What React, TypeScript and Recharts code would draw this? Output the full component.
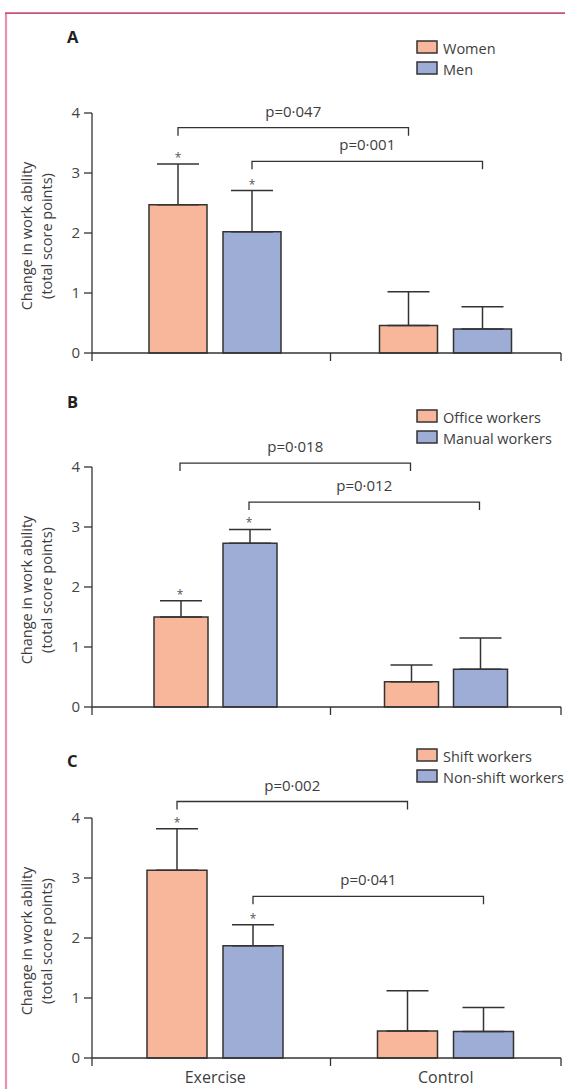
import React from 'react'
import { BarChart, Bar, XAxis, YAxis, ErrorBar } from 'recharts'

// categories on the x axis
const GROUPS = ['Exercise', 'Control']

// panel A: sex
const SEX_LABELS = ['Women', 'Men']
const WOMEN = [2.47, 0.46]
const WOMEN_ERR = [0.68, 0.56]
const MEN = [2.02, 0.4]
const MEN_ERR = [0.69, 0.37]
const SEX_P = ['p=0·047', 'p=0·001']
const SEX_LEVELS = [3.76, 3.2]

// panel B: occupation
const JOB_LABELS = ['Office workers', 'Manual workers']
const OFFICE = [1.5, 0.42]
const OFFICE_ERR = [0.27, 0.28]
const MANUAL = [2.73, 0.63]
const MANUAL_ERR = [0.23, 0.52]
const JOB_P = ['p=0·018', 'p=0·012']
const JOB_LEVELS = [4.06, 3.41]

// panel C: shift work
const SHIFT_LABELS = ['Shift workers', 'Non-shift workers']
const SHIFT = [3.13, 0.45]
const SHIFT_ERR = [0.69, 0.67]
const NON_SHIFT = [1.87, 0.44]
const NON_SHIFT_ERR = [0.35, 0.4]
const SHIFT_P = ['p=0·002', 'p=0·041']
const SHIFT_LEVELS = [4.27, 2.69]

// significance marks (exercise groups only)
const STARRED = [true, false]

const Y_TICKS = [0, 1, 2, 3, 4]

// layout
const W = 565
const H = 1089
const PLOT_LEFT = 92
const PLOT_RIGHT = 561
const PAD_LEFT = 8
const BAND = (PLOT_RIGHT - PLOT_LEFT - PAD_LEFT) / 2
const PLOT_H = 240
const UNIT = PLOT_H / 4
const M_TOP = 100
const X_AXIS_H = 34
const CHART_H = M_TOP + PLOT_H + X_AXIS_H + 4

const FONT = '"Open Sans", "Noto Sans", sans-serif'
const INK = '#333333'
const TEXT = '#3d3d3d'
const COLORS = ['#f8b79a', '#9eadd6']

interface PanelConfig {
  letter: string
  labels: string[]
  values: number[][]
  errors: number[][]
  pvalues: string[]
  levels: number[]
  plotTop: number
  legendTop: number
  letterBase: number
  barSize: number
  barGap: number
  showX: boolean
}

const PANELS: PanelConfig[] = [
  {
    letter: 'A',
    labels: SEX_LABELS,
    values: [WOMEN, MEN],
    errors: [WOMEN_ERR, MEN_ERR],
    pvalues: SEX_P,
    levels: SEX_LEVELS,
    plotTop: 113.3,
    legendTop: 41,
    letterBase: 43,
    barSize: 58,
    barGap: 16,
    showX: false,
  },
  {
    letter: 'B',
    labels: JOB_LABELS,
    values: [OFFICE, MANUAL],
    errors: [OFFICE_ERR, MANUAL_ERR],
    pvalues: JOB_P,
    levels: JOB_LEVELS,
    plotTop: 466.7,
    legendTop: 410,
    letterBase: 408,
    barSize: 54,
    barGap: 15,
    showX: false,
  },
  {
    letter: 'C',
    labels: SHIFT_LABELS,
    values: [SHIFT, NON_SHIFT],
    errors: [SHIFT_ERR, NON_SHIFT_ERR],
    pvalues: SHIFT_P,
    levels: SHIFT_LEVELS,
    plotTop: 817.7,
    legendTop: 749,
    letterBase: 767,
    barSize: 60,
    barGap: 16,
    showX: true,
  },
]

// same arithmetic recharts uses to place grouped bars inside a band
function barCenter(p: PanelConfig, group: number, series: number) {
  const sum = p.barSize * 2 + p.barGap
  const offset = ((BAND - sum) / 2) >> 0
  return (
    PLOT_LEFT + PAD_LEFT + group * BAND + offset +
    series * (p.barSize + p.barGap) + p.barSize / 2
  )
}

function yPx(p: PanelConfig, v: number) {
  return p.plotTop + PLOT_H - v * UNIT
}

function XTick(props: any) {
  const { x, index, payload, show } = props
  const ay = M_TOP + PLOT_H
  return (
    <g>
      {index === 0 && (
        <line x1={PLOT_LEFT} x2={PLOT_LEFT} y1={ay} y2={ay + 8} stroke={INK} strokeWidth={1.3} />
      )}
      <line x1={x + BAND / 2} x2={x + BAND / 2} y1={ay} y2={ay + 8} stroke={INK} strokeWidth={1.3} />
      {show && (
        <text x={x} y={ay + 25} textAnchor='middle' fill={TEXT} fontSize={16}>
          {payload.value}
        </text>
      )}
    </g>
  )
}

function YLabel(props: any) {
  const { viewBox } = props
  const cy = viewBox.y + viewBox.height / 2 + 3
  return (
    <g fill={TEXT} fontSize={14.5}>
      <text x={32} y={cy} textAnchor='middle' transform={`rotate(-90 32 ${cy})`}>
        Change in work ability
      </text>
      <text x={52} y={cy} textAnchor='middle' transform={`rotate(-90 52 ${cy})`}>
        (total score points)
      </text>
    </g>
  )
}

function Panel({ p }: { p: PanelConfig }) {
  const data = GROUPS.map((g, i) => ({
    group: g,
    s0: p.values[0][i],
    e0: [0, p.errors[0][i]],
    s1: p.values[1][i],
    e1: [0, p.errors[1][i]],
  }))
  return (
    <div style={{ position: 'absolute', left: 0, top: p.plotTop - M_TOP }}>
      <BarChart
        width={W}
        height={CHART_H}
        data={data}
        barGap={p.barGap}
        margin={{ top: M_TOP, right: W - PLOT_RIGHT, bottom: 4, left: 0 }}
      >
        <XAxis
          dataKey='group'
          padding={{ left: PAD_LEFT, right: 0 }}
          tickLine={false}
          interval={0}
          height={X_AXIS_H}
          axisLine={{ stroke: INK, strokeWidth: 1.3 }}
          tick={<XTick show={p.showX} />}
        />
        <YAxis
          type='number'
          domain={[0, 4]}
          ticks={Y_TICKS}
          width={PLOT_LEFT}
          tickSize={8}
          tickMargin={4}
          axisLine={{ stroke: INK, strokeWidth: 1.3 }}
          tickLine={{ stroke: INK, strokeWidth: 1.3 }}
          tick={{ fill: '#444', fontSize: 15 }}
          label={<YLabel />}
        />
        {[0, 1].map(s => (
          <Bar
            key={s}
            dataKey={`s${s}`}
            fill={COLORS[s]}
            stroke={INK}
            strokeWidth={1.5}
            barSize={p.barSize}
            isAnimationActive={false}
          >
            <ErrorBar
              dataKey={`e${s}`}
              direction='y'
              width={21}
              stroke={INK}
              strokeWidth={1.5}
              isAnimationActive={false}
            />
          </Bar>
        ))}
      </BarChart>
    </div>
  )
}

function Annotations({ p }: { p: PanelConfig }) {
  return (
    <g>
      <text x={67} y={p.letterBase} fontSize={16.5} fontWeight={700} fill='#222'>
        {p.letter}
      </text>
      {p.labels.map((label, s) => (
        <g key={label}>
          <rect
            x={417}
            y={p.legendTop + s * 21}
            width={20}
            height={12}
            fill={COLORS[s]}
            stroke={INK}
            strokeWidth={1.5}
          />
          <text x={443} y={p.legendTop + s * 21 + 12.5} fontSize={14.5} fill={TEXT}>
            {label}
          </text>
        </g>
      ))}
      {p.levels.map((lvl, s) => {
        const x1 = barCenter(p, 0, s)
        const x2 = barCenter(p, 1, s)
        const y = yPx(p, lvl)
        return (
          <g key={s}>
            <path
              d={`M${x1},${y + 8}V${y}H${x2}V${y + 8}`}
              fill='none'
              stroke={INK}
              strokeWidth={1.3}
            />
            <text x={(x1 + x2) / 2} y={y - 11} textAnchor='middle' fontSize={15} fill={TEXT}>
              {p.pvalues[s]}
            </text>
          </g>
        )
      })}
      {GROUPS.map((g, i) =>
        STARRED[i]
          ? [0, 1].map(s => (
              <text
                key={`${g}-${s}`}
                x={barCenter(p, i, s)}
                y={yPx(p, p.values[s][i] + p.errors[s][i]) - 2}
                textAnchor='middle'
                fontSize={12}
                fill='#555'
              >
                *
              </text>
            ))
          : null
      )}
    </g>
  )
}

export default function App() {
  return (
    <div
      style={{
        position: 'absolute',
        left: 0,
        top: 0,
        width: W,
        height: H,
        overflow: 'hidden',
        background: '#fff',
        fontFamily: FONT,
      }}
    >
      {PANELS.map(p => (
        <Panel key={p.letter} p={p} />
      ))}
      <svg
        width={W}
        height={H}
        style={{ position: 'absolute', left: 0, top: 0, pointerEvents: 'none' }}
        fontFamily={FONT}
      >
        <line x1={6} x2={6} y1={13} y2={H} stroke='#e891ad' strokeWidth={2.2} />
        <line x1={5} x2={W} y1={13.2} y2={13.2} stroke='#c8507c' strokeWidth={1.8} />
        {PANELS.map(p => (
          <Annotations key={p.letter} p={p} />
        ))}
      </svg>
    </div>
  )
}
